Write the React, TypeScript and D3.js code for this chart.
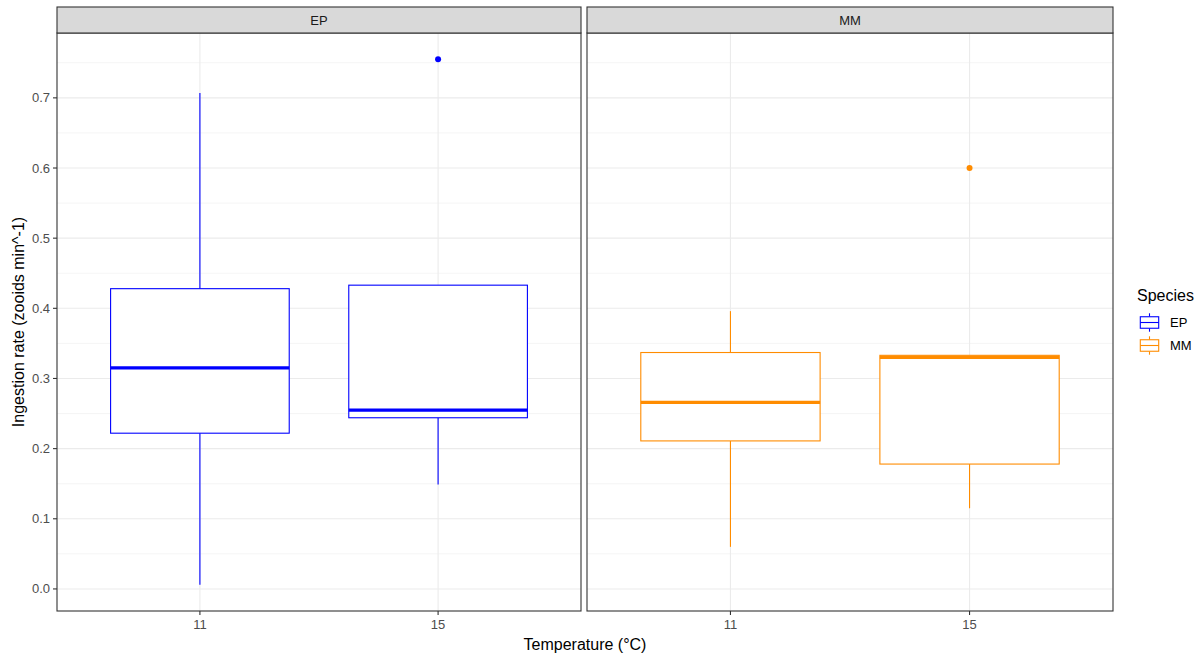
import React from "react";
import * as d3 from "d3";

// Temperature categories on the x axis
const temperatures = ["11", "15"];
// Facet / species order
const species = ["EP", "MM"];
const speciesColors = ["#0000FF", "#FF8C00"];

// Box statistics per temperature: [lower whisker, Q1, median, Q3, upper whisker]
const epBoxes = [
  [0.006, 0.222, 0.315, 0.428, 0.707],
  [0.149, 0.244, 0.255, 0.433, 0.433],
];
const mmBoxes = [
  [0.06, 0.211, 0.266, 0.337, 0.396],
  [0.115, 0.178, 0.33, 0.333, 0.333],
];
// Outliers per temperature
const epOutliers = [[], [0.755]];
const mmOutliers = [[], [0.6]];

const yTicks = [0, 0.1, 0.2, 0.3, 0.4, 0.5, 0.6, 0.7];
const yMinor = [0.05, 0.15, 0.25, 0.35, 0.45, 0.55, 0.65, 0.75];

const FONT = "'Liberation Sans', Arial, Helvetica, sans-serif";

const W = 1204;
const H = 657;
const panelTop = 33;
const panelBottom = 611;
const stripTop = 7;
const panels = [
  { x0: 57, x1: 581 },
  { x0: 587, x1: 1113 },
];

const TICK_FS = 13;
const TITLE_FS = 16;

export default function App() {
  const boxesBySpecies = [epBoxes, mmBoxes];
  const outliersBySpecies = [epOutliers, mmOutliers];

  const allVals = [
    ...epBoxes.flat(),
    ...mmBoxes.flat(),
    ...epOutliers.flat(),
    ...mmOutliers.flat(),
  ];
  const lo = d3.min(allVals) as number;
  const hi = d3.max(allVals) as number;
  const pad = (hi - lo) * 0.05;
  const y = d3
    .scaleLinear()
    .domain([lo - pad, hi + pad])
    .range([panelBottom, panelTop]);

  const fmt = d3.format(".1f");

  return (
    <svg
      width={W}
      height={H}
      style={{ position: "absolute", left: 0, top: 0, background: "#fff" }}
      fontFamily={FONT}
    >
      <rect x={0} y={0} width={W} height={H} fill="#fff" />
      {panels.map((p, si) => {
        // discrete positions 1..n, expanded by 0.6 on each side
        const xs = d3
          .scaleLinear()
          .domain([0.4, temperatures.length + 0.6])
          .range([p.x0, p.x1]);
        const boxW = xs(1.375) - xs(1);
        const color = speciesColors[si];
        const boxes = boxesBySpecies[si];
        const outs = outliersBySpecies[si];
        return (
          <g key={species[si]}>
            {/* panel background and grid */}
            <rect x={p.x0} y={panelTop} width={p.x1 - p.x0} height={panelBottom - panelTop} fill="#fff" />
            {yMinor.map((v) =>
              y(v) > panelTop && y(v) < panelBottom ? (
                <line key={"mi" + v} x1={p.x0} x2={p.x1} y1={y(v)} y2={y(v)} stroke="#F2F2F2" strokeWidth={0.8} />
              ) : null
            )}
            {yTicks.map((v) => (
              <line key={"ma" + v} x1={p.x0} x2={p.x1} y1={y(v)} y2={y(v)} stroke="#EBEBEB" strokeWidth={1.1} />
            ))}
            {temperatures.map((t, i) => (
              <line key={"vx" + t} x1={xs(i + 1)} x2={xs(i + 1)} y1={panelTop} y2={panelBottom} stroke="#EBEBEB" strokeWidth={1.1} />
            ))}
            {/* boxplots */}
            {boxes.map((b, i) => {
              const cx = xs(i + 1);
              const [wl, q1, med, q3, wu] = b;
              return (
                <g key={"b" + i} fill="none" stroke={color}>
                  <line x1={cx} x2={cx} y1={y(wl)} y2={y(q1)} strokeWidth={1.1} />
                  <line x1={cx} x2={cx} y1={y(q3)} y2={y(wu)} strokeWidth={1.1} />
                  <rect x={cx - boxW} y={y(q3)} width={boxW * 2} height={y(q1) - y(q3)} fill="#fff" strokeWidth={1.1} />
                  <line x1={cx - boxW} x2={cx + boxW} y1={y(med)} y2={y(med)} strokeWidth={3.2} />
                  {outs[i].map((o, k) => (
                    <circle key={k} cx={cx} cy={y(o)} r={3} fill={color} stroke="none" />
                  ))}
                </g>
              );
            })}
            {/* panel border */}
            <rect x={p.x0} y={panelTop} width={p.x1 - p.x0} height={panelBottom - panelTop} fill="none" stroke="#333333" strokeWidth={1.1} />
            {/* strip */}
            <rect x={p.x0} y={stripTop} width={p.x1 - p.x0} height={panelTop - stripTop} fill="#D9D9D9" stroke="#333333" strokeWidth={1.1} />
            <text x={(p.x0 + p.x1) / 2} y={(stripTop + panelTop) / 2} dy="0.35em" textAnchor="middle" fontSize={TICK_FS} fill="#1A1A1A">
              {species[si]}
            </text>
            {/* x axis ticks & labels */}
            {temperatures.map((t, i) => (
              <g key={"xt" + t}>
                <line x1={xs(i + 1)} x2={xs(i + 1)} y1={panelBottom} y2={panelBottom + 4} stroke="#333333" strokeWidth={1.1} />
                <text x={xs(i + 1)} y={panelBottom + 13} dy="0.35em" textAnchor="middle" fontSize={TICK_FS} fill="#4D4D4D">
                  {t}
                </text>
              </g>
            ))}
          </g>
        );
      })}
      {/* y axis */}
      {yTicks.map((v) => (
        <g key={"yt" + v}>
          <line x1={panels[0].x0 - 4} x2={panels[0].x0} y1={y(v)} y2={y(v)} stroke="#333333" strokeWidth={1.1} />
          <text x={panels[0].x0 - 7} y={y(v)} dy="0.35em" textAnchor="end" fontSize={TICK_FS} fill="#4D4D4D">
            {fmt(v)}
          </text>
        </g>
      ))}
      {/* axis titles */}
      <text x={(panels[0].x0 + panels[1].x1) / 2} y={644} dy="0.35em" textAnchor="middle" fontSize={TITLE_FS} fill="#000">
        Temperature (°C)
      </text>
      <text
        transform={`translate(18,${(panelTop + panelBottom) / 2}) rotate(-90)`}
        dy="0.35em"
        textAnchor="middle"
        fontSize={TITLE_FS}
        fill="#000"
      >
        Ingestion rate (zooids min^-1)
      </text>
      {/* legend */}
      <text x={1137} y={295} dy="0.35em" fontSize={TITLE_FS} fill="#000">
        Species
      </text>
      {species.map((s, i) => {
        const ky = 311 + i * 23;
        const kx = 1138;
        const ks = 23;
        const c = speciesColors[i];
        const cx = kx + ks / 2;
        return (
          <g key={"lg" + s}>
            <g stroke={c} fill="none" strokeWidth={1.1}>
              <line x1={cx} x2={cx} y1={ky + ks * 0.1} y2={ky + ks * 0.25} />
              <line x1={cx} x2={cx} y1={ky + ks * 0.75} y2={ky + ks * 0.9} />
              <rect x={kx + ks * 0.1} y={ky + ks * 0.25} width={ks * 0.8} height={ks * 0.5} fill="#fff" />
              <line x1={kx + ks * 0.1} x2={kx + ks * 0.9} y1={ky + ks * 0.5} y2={ky + ks * 0.5} />
            </g>
            <text x={1170} y={ky + ks / 2} dy="0.35em" fontSize={TICK_FS} fill="#000">
              {s}
            </text>
          </g>
        );
      })}
    </svg>
  );
}
